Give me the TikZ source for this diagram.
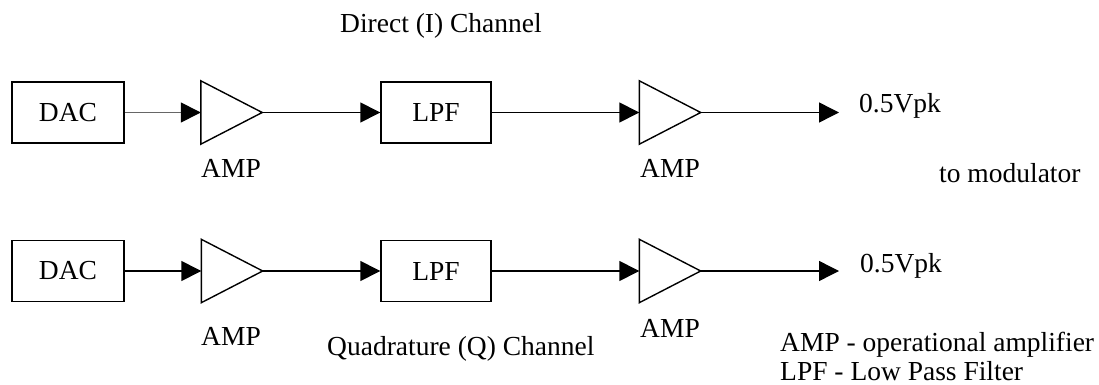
\documentclass[tikz,border=0pt]{standalone}
\usepackage{fontspec}
\setmainfont{Liberation Serif}
\usetikzlibrary{arrows.meta}
\begin{document}
\begin{tikzpicture}[x=1pt,y=-1pt,
  lbl/.style={font=\fontsize{27.5pt}{32pt}\selectfont, inner sep=0pt},
  block/.style={draw, line width=1.4pt, minimum width=112pt, minimum height=61pt,
    inner sep=0pt, font=\fontsize{27.5pt}{32pt}\selectfont},
  ampbox/.style={minimum width=61pt, minimum height=63pt, inner sep=0pt},
  sig/.style={line width=1.4pt, -{Triangle[length=20pt,width=20pt,black]}},
  tri/.style={line width=1.4pt, line join=miter}]
\useasboundingbox (0,0) rectangle (1099,385);

% in-phase channel
\node[block] (dac1) at (68,112.5) {DAC};
\node[ampbox] (amp1) at (231.5,112.5) {};
\node[block,minimum width=110pt] (lpf1) at (436,112.5) {LPF};
\node[ampbox] (amp2) at (670,112.5) {};
\coordinate (out1) at (839,112.5);

% quadrature channel
\node[block] (dac2) at (68,271) {DAC};
\node[ampbox] (amp3) at (232,271) {};
\node[block,minimum width=110pt] (lpf2) at (436,271) {LPF};
\node[ampbox] (amp4) at (670,271) {};
\coordinate (out2) at (839,271);

% amplifier symbols
\foreach \a in {amp1,amp2,amp3,amp4}
  \draw[tri] (\a.north west) -- (\a.east) -- (\a.south west) -- cycle;

% signal paths
\draw[sig, draw=black!60] (dac1.east) -- (amp1.west);
\draw[sig] (amp1.east) -- (lpf1.west);
\draw[sig] (lpf1.east) -- (amp2.west);
\draw[sig] (amp2.east) -- (out1);
\draw[sig] (dac2.east) -- (amp3.west);
\draw[sig] (amp3.east) -- (lpf2.west);
\draw[sig] (lpf2.east) -- (amp4.west);
\draw[sig] (amp4.east) -- (out2);

% labels
\node[lbl, anchor=base west] (title1) at (340,33) {Direct (I) Channel};
\node[lbl, anchor=base] (amp1l) at (231,177) {AMP};
\node[lbl, anchor=base] (amp2l) at (670,177) {AMP};
\node[lbl, anchor=base west] (v1) at (859,113) {0.5Vpk};
\node[lbl, anchor=base west] (tomod) at (939,182) {to modulator};
\node[lbl, anchor=base west] (v2) at (860,272) {0.5Vpk};
\node[lbl, anchor=base] (amp3l) at (231,345) {AMP};
\node[lbl, anchor=base] (amp4l) at (670,337) {AMP};
\node[lbl, anchor=base west] (title2) at (327,355) {Quadrature (Q) Channel};
\node[lbl, anchor=base west] (leg1) at (780,351) {AMP - operational amplifier};
\node[lbl, anchor=base west] (leg2) at (780,380) {LPF - Low Pass Filter};
\end{tikzpicture}
\end{document}
